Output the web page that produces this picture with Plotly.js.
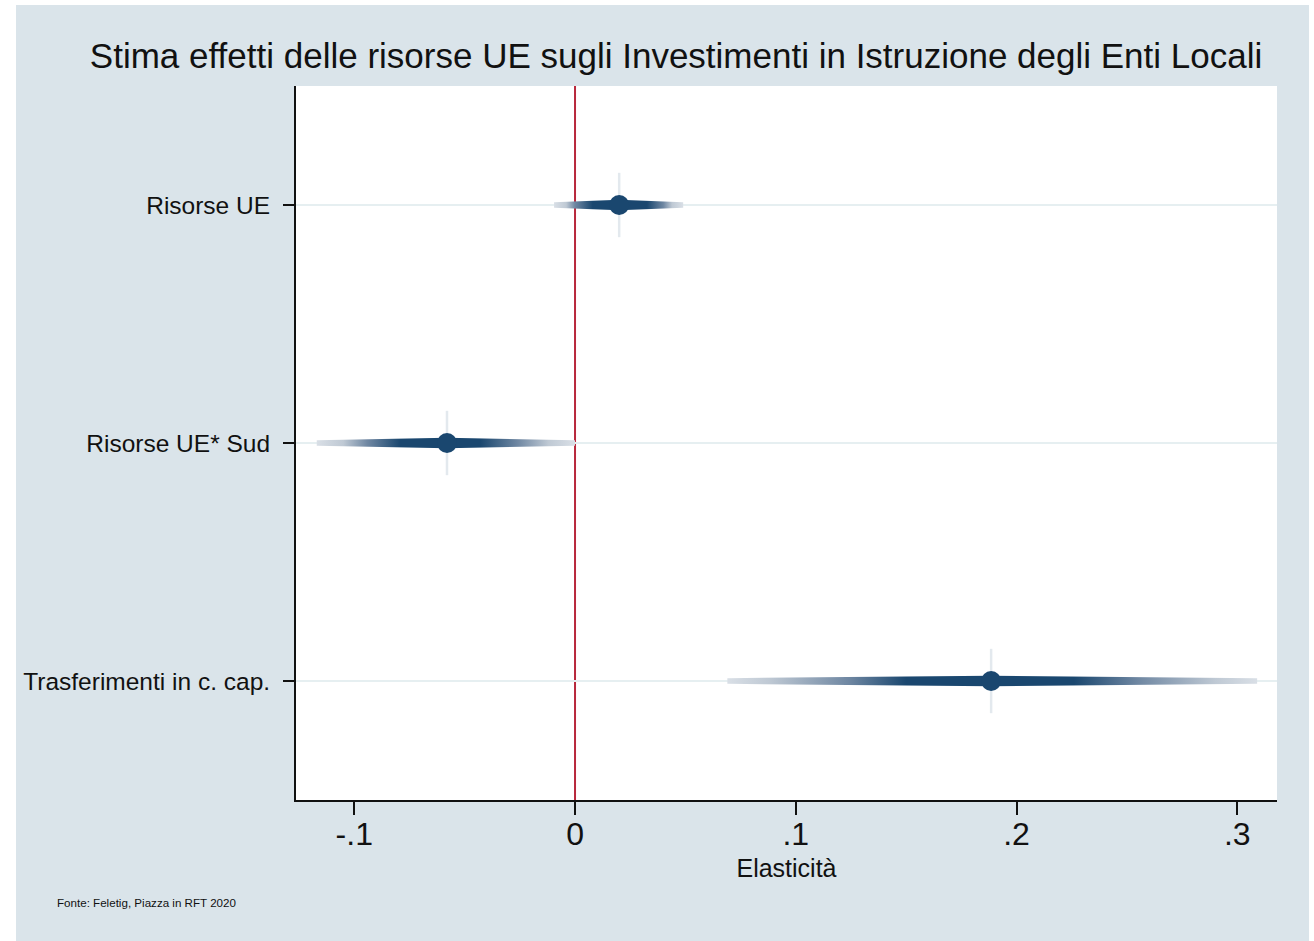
<!DOCTYPE html>
<html>
<head>
<meta charset="utf-8">
<script src="https://cdn.plot.ly/plotly-3.0.1.min.js"></script>
<style>
  html, body { margin: 0; padding: 0; background: #ffffff; }
  #chart { position: absolute; left: 16px; top: 5px; width: 1293px; height: 936px; }
</style>
</head>
<body>
<div id="chart"></div>
<script>
// Categories (top to bottom)
const categories = ["Risorse UE", "Risorse UE* Sud", "Trasferimenti in c. cap."];
const catPos = [1, 2, 3];

// Point estimates (elasticities)
const estimates = [0.020, -0.058, 0.1885];

// Confidence bands, from widest (lightest) to narrowest (darkest)
const ci1Lo = [-0.0095, -0.117, 0.069];
const ci1Hi = [0.049, 0.000, 0.309];
const ci2Lo = [-0.004, -0.105, 0.088];
const ci2Hi = [0.044, -0.012, 0.290];
const ci3Lo = [0.000, -0.094, 0.124];
const ci3Hi = [0.040, -0.026, 0.255];
const ci4Lo = [0.008, -0.079, 0.150];
const ci4Hi = [0.0326, -0.043, 0.226];

const xTickVals = [-0.1, 0, 0.1, 0.2, 0.3];
const xTickText = ["-.1", "0", ".1", ".2", ".3"];

const navy = "#1a476f";
const bandColors = ["#d9dfe6", "#bfc9d4", "#6f87a2", navy];
const font = "'Liberation Sans', Arial, Helvetica, sans-serif";

// half-thickness of the band (y units): at the ends and at the estimate
const hEnd = 0.012, hMid = 0.022;

const bandTraces = categories.map((c, i) => {
  const lo = ci1Lo[i], hi = ci1Hi[i], e = estimates[i], p = catPos[i];
  const rel = v => (v - lo) / (hi - lo);
  return {
    type: "scatter", mode: "lines", fill: "toself",
    x: [lo, e, hi, hi, e, lo, lo],
    y: [p - hEnd, p - hMid, p - hEnd, p + hEnd, p + hMid, p + hEnd, p - hEnd],
    line: { width: 0, color: "rgba(0,0,0,0)" },
    fillgradient: {
      type: "horizontal", start: lo, stop: hi,
      colorscale: [
        [0, bandColors[0]],
        [rel(ci2Lo[i]), bandColors[1]],
        [rel(ci3Lo[i]), bandColors[2]],
        [rel(ci4Lo[i]), bandColors[3]],
        [rel(ci4Hi[i]), bandColors[3]],
        [rel(ci3Hi[i]), bandColors[2]],
        [rel(ci2Hi[i]), bandColors[1]],
        [1, bandColors[0]]
      ]
    },
    hoverinfo: "skip", showlegend: false
  };
});

const traces = bandTraces.concat([
  { // faint vertical spike
    type: "scatter", mode: "markers", x: estimates, y: catPos,
    marker: { symbol: "line-ns", size: 46, color: "#e3e9ee", line: { color: "#e3e9ee", width: 2.5 } },
    hoverinfo: "skip", showlegend: false
  },
  { // point estimate
    type: "scatter", mode: "markers", x: estimates, y: catPos,
    marker: { symbol: "circle", size: 20, color: navy, line: { width: 0 } },
    showlegend: false
  }
]);

const layout = {
  width: 1293, height: 936,
  paper_bgcolor: "#dae4ea",
  plot_bgcolor: "#ffffff",
  margin: { l: 280, r: 32, t: 81, b: 141 },
  font: { family: font, color: "#111111" },
  title: {
    text: "Stima effetti delle risorse UE sugli Investimenti in Istruzione degli Enti Locali",
    font: { family: font, size: 35, color: "#111111" },
    xref: "container", x: 0.5105, xanchor: "center",
    yref: "container", y: 0.9455, yanchor: "middle"
  },
  xaxis: {
    range: [-0.1264, 0.318],
    tickvals: xTickVals, ticktext: xTickText,
    ticks: "outside", ticklen: 13, tickwidth: 2, tickcolor: "#111111",
    tickfont: { size: 32, color: "#111111" },
    ticklabelstandoff: -8,
    showline: true, linecolor: "#111111", linewidth: 2,
    showgrid: false, zeroline: false,
    title: { text: "Elasticità", font: { size: 25, color: "#111111" }, standoff: 8 }
  },
  yaxis: {
    range: [3.5, 0.5],
    tickvals: catPos, ticktext: categories,
    ticks: "outside", ticklen: 11, tickwidth: 2, tickcolor: "#111111",
    tickfont: { size: 24.5, color: "#111111" },
    ticklabelstandoff: 8,
    showline: true, linecolor: "#111111", linewidth: 2,
    showgrid: true, gridcolor: "#e6eff1", gridwidth: 2,
    zeroline: false
  },
  shapes: [
    { type: "line", xref: "x", yref: "paper", x0: 0, x1: 0, y0: 0, y1: 1,
      line: { color: "#b8283c", width: 2 }, layer: "between" }
  ],
  annotations: [
    { text: "Fonte: Feletig, Piazza in RFT 2020", xref: "paper", yref: "paper",
      x: (39 - 280) / 981, y: -(897 - 795) / 714, xanchor: "left", yanchor: "middle",
      showarrow: false, font: { size: 11.6, color: "#111111" } }
  ]
};

Plotly.newPlot("chart", traces, layout, { displayModeBar: false, staticPlot: true });
</script>
</body>
</html>
